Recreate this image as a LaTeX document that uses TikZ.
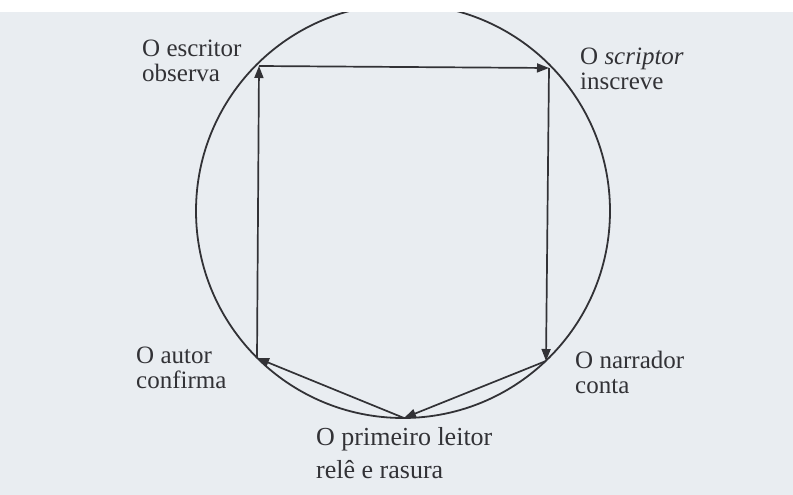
\documentclass[tikz,border=0pt]{standalone}
\usepackage{fontspec}
\setmainfont{Liberation Serif}
\usetikzlibrary{arrows.meta}
\definecolor{paper}{RGB}{233,237,241}
\definecolor{ink}{RGB}{50,50,54}
\begin{document}
\begin{tikzpicture}[x=1pt,y=-1pt,
  edge/.style={draw=ink,line width=1.7pt,-{Triangle[length=12pt,width=9pt]}},
  lbl/.style={text=ink,inner sep=0pt,align=left,anchor=north west,font=\fontsize{25}{25}\selectfont}]
\useasboundingbox (0,0) rectangle (793,495);
\fill[paper] (0,0) rectangle (793,495);
\coordinate (c) at (403,211);
\draw[ink,line width=1.8pt] (c) circle[radius=207pt];
\fill[white] (0,0) rectangle (793,12);
\coordinate (tl) at (259,66);
\coordinate (tr) at (549,68);
\coordinate (br) at (546,361);
\coordinate (bot) at (404,418);
\coordinate (bl) at (257,358);
\draw[edge] (tl) -- (tr);
\draw[edge] (tr) -- (br);
\draw[edge] (br) -- (bot);
\draw[edge] (bot) -- (bl);
\draw[edge] (bl) -- (tl);
\node[lbl] (escritor) at (142,40) {O escritor\\observa};
\node[lbl] (scriptor) at (580,48) {O \textit{scriptor}\\inscreve};
\node[lbl] (autor) at (136,346.5) {O autor\\confirma};
\node[lbl] (narrador) at (575,351) {O narrador\\conta};
\node[lbl,font=\fontsize{26}{33}\selectfont] (leitor) at (316,427.5) {O primeiro leitor\\relê e rasura};
\end{tikzpicture}
\end{document}
